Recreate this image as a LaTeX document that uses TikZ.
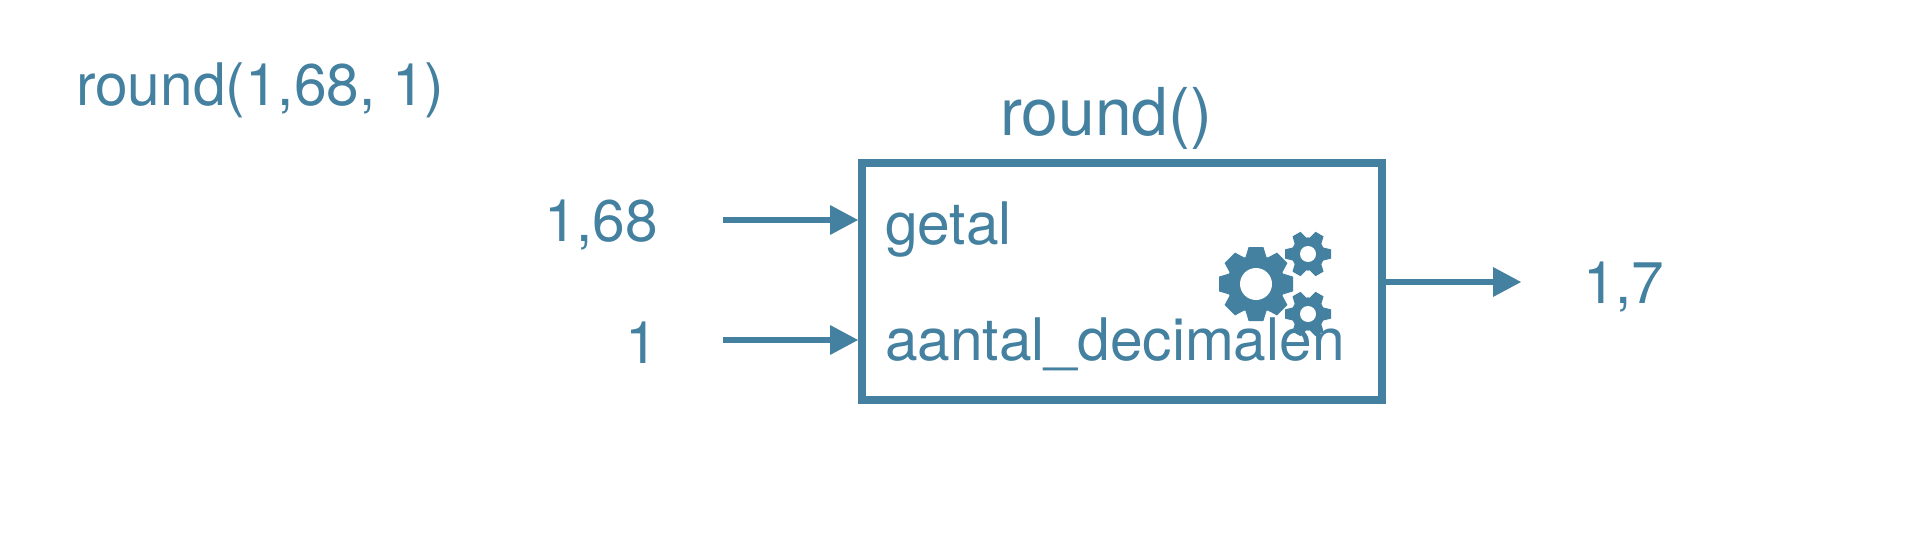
\documentclass[tikz,border=0pt]{standalone}
\usepackage{fontspec}
\setmainfont{TeX Gyre Heros}
\usetikzlibrary{arrows.meta}
\definecolor{blauw}{HTML}{44809F}
\tikzset{
  x=0.75pt,y=-0.75pt,
  label text/.style={text=blauw,font=\fontsize{44}{50}\selectfont,inner sep=0pt,outer sep=0pt,anchor=base west},
  connector/.style={draw=blauw,line width=5.2pt,-{Triangle[length=21pt,width=22.5pt,line width=0pt,fill=blauw]}},
  funcbox/.style={draw=blauw,line width=5.8pt,fill=white,inner sep=0pt,outer sep=0pt,minimum width=390pt,minimum height=178pt},
  pics/gear/.style args={#1/#2/#3/#4}{code={
    \fill[blauw] (0,0) circle ({#2*#4});
    \foreach \a in {1,...,#3}{
      \fill[blauw,rotate={\a*360/#3-180/#3*(#3==6)}]
        ({-#2*0.29},{-#2*(#4-0.08)}) -- ({-#2*0.2},{-#2}) -- ({#2*0.2},{-#2}) -- ({#2*0.29},{-#2*(#4-0.08)}) -- cycle;
    }
    \fill[white] (0,0) circle ({#1});
  }}
}
\begin{document}
\begin{tikzpicture}
\useasboundingbox (0,0) rectangle (1920,560);
\node[funcbox] (box) at (1122,281.5) {};
\pic at (1256,284) {gear={16/37/8/0.78}};
\pic at (1308,254) {gear={8/23/6/0.72}};
\pic at (1308,314) {gear={8/23/6/0.72}};
\node[label text] (call) at (76,105) {round(1,68, 1)};
\node[label text,font=\fontsize{49.5}{56}\selectfont] (title) at (1000,135) {round()};
\node[label text] (in1) at (544,241) {1,68};
\node[label text] (in2) at (625,363) {1};
\node[label text] (out) at (1583,303) {1,7};
\node[label text] (p1) at (885,244) {getal};
\node[label text] (p2) at (885,360) {aantal\_decimalen};
\coordinate (s1) at (723,220);
\coordinate (s2) at (723,340);
\coordinate (e3) at (1521,282);
\draw[connector,shorten >=3pt] (s1) -- (s1 -| box.west);
\draw[connector,shorten >=3pt] (s2) -- (s2 -| box.west);
\draw[connector] (e3 -| box.east) -- (e3);
\end{tikzpicture}
\end{document}
